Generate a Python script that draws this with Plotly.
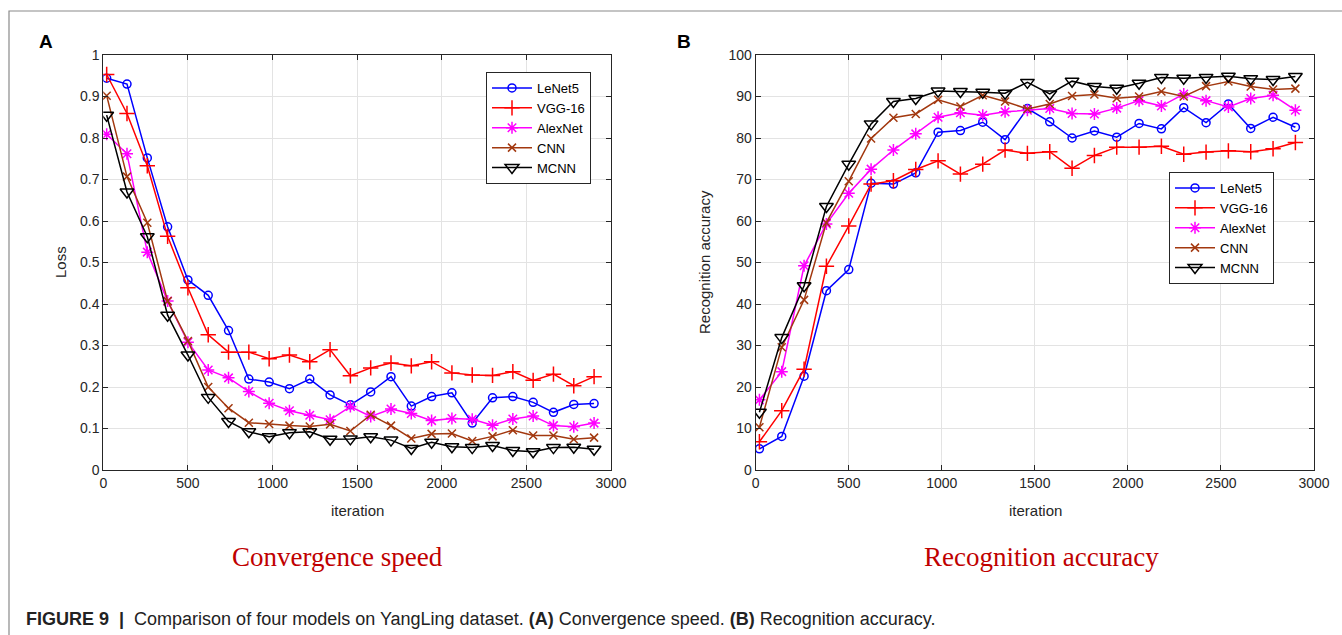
import plotly.graph_objects as go

OFF = 0
W, H = 1342, 635

iterations = [20, 140, 260, 380, 500, 620, 740, 860, 980, 1100, 1220, 1340, 1460,
              1580, 1700, 1820, 1940, 2060, 2180, 2300, 2420, 2540, 2660, 2780, 2900]
models = ["LeNet5", "VGG-16", "AlexNet", "CNN", "MCNN"]

loss_lenet5 = [0.944, 0.930, 0.752, 0.586, 0.458, 0.421, 0.336, 0.219, 0.212, 0.196, 0.219, 0.181,
               0.157, 0.188, 0.225, 0.154, 0.177, 0.186, 0.113, 0.174, 0.177, 0.163, 0.139, 0.158, 0.160]
loss_vgg16 = [0.953, 0.859, 0.733, 0.563, 0.439, 0.326, 0.284, 0.284, 0.268, 0.277, 0.261, 0.290,
              0.227, 0.246, 0.258, 0.251, 0.261, 0.234, 0.229, 0.228, 0.237, 0.216, 0.231, 0.203, 0.225]
loss_alexnet = [0.809, 0.762, 0.525, 0.407, 0.308, 0.241, 0.222, 0.189, 0.161, 0.143, 0.132, 0.121,
                0.153, 0.129, 0.147, 0.136, 0.119, 0.124, 0.122, 0.108, 0.123, 0.130, 0.107, 0.104, 0.113]
loss_cnn = [0.902, 0.707, 0.596, 0.407, 0.311, 0.200, 0.149, 0.114, 0.111, 0.107, 0.105, 0.110,
            0.094, 0.133, 0.107, 0.076, 0.087, 0.088, 0.070, 0.081, 0.096, 0.083, 0.083, 0.074, 0.078]
loss_mcnn = [0.855, 0.670, 0.562, 0.373, 0.277, 0.175, 0.117, 0.092, 0.080, 0.090, 0.092, 0.074,
             0.075, 0.080, 0.072, 0.052, 0.067, 0.056, 0.054, 0.059, 0.047, 0.044, 0.054, 0.055, 0.050]

acc_lenet5 = [5.1, 8.1, 22.6, 43.2, 48.3, 69.1, 68.9, 71.6, 81.4, 81.8, 83.8, 79.6, 87.1,
              83.9, 80.0, 81.7, 80.2, 83.5, 82.2, 87.3, 83.7, 88.2, 82.3, 85.0, 82.6]
acc_vgg16 = [6.8, 14.3, 24.3, 49.1, 58.8, 68.9, 69.7, 72.4, 74.5, 71.3, 73.7, 77.1, 76.3,
             76.7, 72.7, 75.8, 77.8, 77.8, 78.0, 76.1, 76.6, 76.9, 76.7, 77.4, 78.9]
acc_alexnet = [16.9, 23.7, 49.2, 59.3, 66.7, 72.5, 77.1, 81.0, 85.0, 86.1, 85.5, 86.3, 86.7,
               87.1, 85.9, 85.8, 87.2, 89.0, 87.7, 90.6, 89.0, 87.5, 89.5, 90.3, 86.7]
acc_cnn = [10.3, 29.6, 41.0, 59.6, 69.6, 79.9, 84.9, 85.8, 89.2, 87.6, 90.3, 88.8, 87.0,
           88.2, 90.1, 90.5, 89.6, 90.0, 91.2, 90.0, 92.5, 93.6, 92.4, 91.7, 91.9]
acc_mcnn = [13.9, 31.9, 44.4, 63.5, 73.7, 83.4, 88.8, 89.5, 91.3, 91.2, 91.0, 90.8, 93.4,
            90.6, 93.7, 92.4, 92.0, 93.2, 94.6, 94.4, 94.6, 94.9, 94.3, 94.1, 94.8]

loss_ticks = [0, 0.1, 0.2, 0.3, 0.4, 0.5, 0.6, 0.7, 0.8, 0.9, 1]
loss_ticktext = ["0", "0.1", "0.2", "0.3", "0.4", "0.5", "0.6", "0.7", "0.8", "0.9", "1"]
acc_ticks = [0, 10, 20, 30, 40, 50, 60, 70, 80, 90, 100]
iter_ticks = [0, 500, 1000, 1500, 2000, 2500, 3000]

colors = ["#0000ff", "#ff0000", "#ff00ff", "#a2380f", "#000000"]
symbols = ["circle-open", "cross-thin-open", "asterisk-open", "x-thin-open", "triangle-down-open"]
msizes = [8, 11, 10, 8, 12]

loss_data = [loss_lenet5, loss_vgg16, loss_alexnet, loss_cnn, loss_mcnn]
acc_data = [acc_lenet5, acc_vgg16, acc_alexnet, acc_cnn, acc_mcnn]

fig = go.Figure()
for i, name in enumerate(models):
    fig.add_trace(go.Scatter(
        x=iterations, y=loss_data[i], name=name, mode="lines+markers",
        line=dict(color=colors[i], width=1.5),
        marker=dict(symbol=symbols[i], size=msizes[i], color=colors[i],
                    line=dict(width=1.5, color=colors[i])),
        xaxis="x", yaxis="y", legend="legend"))
for i, name in enumerate(models):
    fig.add_trace(go.Scatter(
        x=iterations, y=acc_data[i], name=name, mode="lines+markers",
        line=dict(color=colors[i], width=1.5),
        marker=dict(symbol=symbols[i], size=msizes[i], color=colors[i],
                    line=dict(width=1.5, color=colors[i])),
        xaxis="x2", yaxis="y2", legend="legend2"))

def px(x):
    return (x - OFF) / W

def py(y):
    return 1 - (y - OFF) / H

axis_common = dict(
    showline=True, linecolor="#262626", linewidth=1, mirror="ticks",
    ticks="inside", ticklen=5, tickcolor="#262626", automargin=False,
    showgrid=True, gridcolor="#e3e3e3", gridwidth=1, zeroline=False,
    tickfont=dict(family="Liberation Sans, Arial", size=14, color="#262626"),
)

legend_common = dict(
    xanchor="left", yanchor="top", bgcolor="white", bordercolor="#262626", borderwidth=1,
    font=dict(family="Liberation Sans, Arial", size=13, color="#000000"),
    itemwidth=40, tracegroupgap=0)

fig.update_layout(
    width=W, height=H, margin=dict(l=0, r=0, t=0, b=0, autoexpand=False),
    paper_bgcolor="white", plot_bgcolor="white",
    xaxis=dict(domain=[px(103.3), px(611)], range=[0, 3000], tickvals=iter_ticks,
               anchor="y", **axis_common),
    yaxis=dict(domain=[py(470), py(55)], range=[0, 1], tickvals=loss_ticks,
               ticktext=loss_ticktext, anchor="x", **axis_common),
    xaxis2=dict(domain=[px(755.7), px(1314)], range=[0, 3000], tickvals=iter_ticks,
                anchor="y2", **axis_common),
    yaxis2=dict(domain=[py(470), py(55)], range=[0, 100], tickvals=acc_ticks,
                anchor="x2", **axis_common),
    legend=dict(x=px(486), y=py(72), **legend_common),
    legend2=dict(x=px(1169), y=py(172), **legend_common),
    showlegend=True,
)

ann_font = dict(family="Liberation Sans, Arial", size=15, color="#262626")
annotations = [
    dict(text="<b>A</b>", x=px(46), y=py(42), font=dict(family="Liberation Sans, Arial", size=19, color="#000")),
    dict(text="<b>B</b>", x=px(684), y=py(42), font=dict(family="Liberation Sans, Arial", size=19, color="#000")),
    dict(text="Loss", x=px(60), y=py(262), textangle=-90, font=ann_font),
    dict(text="Recognition accuracy", x=px(704), y=py(262), textangle=-90, font=ann_font),
    dict(text="iteration", x=px(357), y=py(511), font=ann_font),
    dict(text="iteration", x=px(1035), y=py(511), font=ann_font),
    dict(text="Convergence speed", x=px(337), y=py(557),
         font=dict(family="Liberation Serif, Times New Roman", size=27, color="#c00000")),
    dict(text="Recognition accuracy", x=px(1041), y=py(557),
         font=dict(family="Liberation Serif, Times New Roman", size=27, color="#c00000")),
    dict(text="<b>FIGURE 9</b>  <b>|</b>  Comparison of four models on YangLing dataset. "
              "<b>(A)</b> Convergence speed. <b>(B)</b> Recognition accuracy.",
         x=px(24), y=py(619), xanchor="left",
         font=dict(family="Liberation Sans, Arial", size=18, color="#222222")),
]
for a in annotations:
    a.setdefault("xanchor", "center")
    fig.add_annotation(xref="paper", yref="paper", showarrow=False,
                       yanchor="middle", **a)

fig.add_shape(type="rect", xref="paper", yref="paper",
              x0=px(9), y0=-0.05, x1=1.05, y1=py(11),
              line=dict(color="#8a8a8a", width=1.2), fillcolor="rgba(0,0,0,0)", layer="below")

fig.write_html("out.html", config={"displayModeBar": False},
               post_script="document.body.style.margin='0';document.body.style.padding='0';"
                           "document.documentElement.style.overflow='hidden';")
